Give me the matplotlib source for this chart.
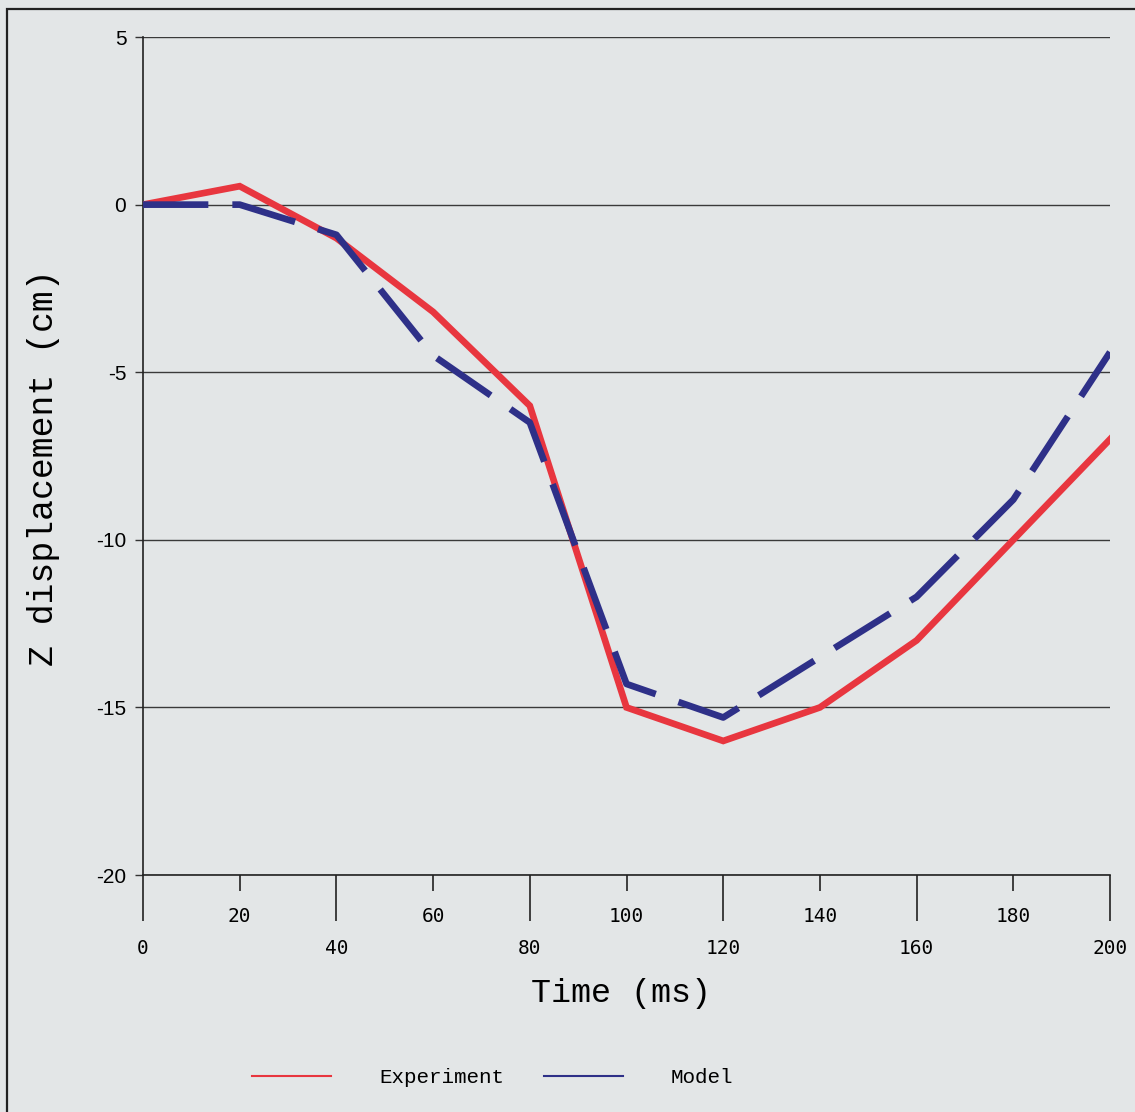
import numpy as np
import matplotlib
matplotlib.use('Agg')
import matplotlib.pyplot as plt
from matplotlib.lines import Line2D
from matplotlib.patches import Rectangle

# data
time_ms = [0, 20, 40, 60, 80, 100, 120, 140, 160, 180, 200]
experiment = [0, 0.55, -1.0, -3.2, -6.0, -15.0, -16.0, -15.0, -13.0, -10.0, -7.0]
model = [0, 0, -0.9, -4.5, -6.5, -14.3, -15.3, -13.5, -11.7, -8.8, -4.4]

major_x = [0, 40, 80, 120, 160, 200]
minor_x = [20, 60, 100, 140, 180]
y_ticks = [5, 0, -5, -10, -15, -20]

bg = '#e3e6e7'
red = '#e8363f'
navy = '#2e3088'
mono = 'Liberation Mono'

fig = plt.figure(figsize=(11.35, 11.12), dpi=100, facecolor=bg)
ax = fig.add_axes([0.126, 0.2131, 0.852, 0.7536], facecolor=bg)

# outer frame
fig.patches.append(Rectangle((0.006, -0.02), 1.1, 1.012, transform=fig.transFigure,
                             fill=False, edgecolor='#222222', lw=1.6))

ax.plot(time_ms, experiment, color=red, lw=4.8, solid_joinstyle='miter', zorder=3)
ln, = ax.plot(time_ms, model, color=navy, lw=4.8, zorder=4)
ln.set_dashes((9.8, 3.6))
ln.set_dash_capstyle('butt')

ax.set_xlim(0, 200)
ax.set_ylim(-20, 5)

ax.set_xticks(major_x)
ax.set_xticks(minor_x, minor=True)
ax.set_xticklabels([str(v) for v in major_x], fontfamily='DejaVu Sans Mono', fontsize=14)
ax.set_xticklabels([str(v) for v in minor_x], minor=True, fontfamily='DejaVu Sans Mono', fontsize=14)
ax.tick_params(axis='x', which='major', length=33, width=1.2, pad=13, color='#222222')
ax.tick_params(axis='x', which='minor', length=11.5, width=1.2, pad=11.5, color='#222222')

ax.set_yticks(y_ticks)
ax.set_yticklabels([str(v) for v in y_ticks], fontfamily='Liberation Sans', fontsize=15)
ax.tick_params(axis='y', length=6, width=1.0, pad=6, color='#333333')

ax.grid(axis='y', color='#3a3a3a', lw=1.0)
ax.set_axisbelow(True)
for s in ['top', 'right']:
    ax.spines[s].set_visible(False)
ax.spines['left'].set_color('#222222')
ax.spines['bottom'].set_color('#222222')
ax.spines['left'].set_linewidth(1.2)
ax.spines['bottom'].set_linewidth(1.2)

ax.set_xlabel('Time (ms)', fontfamily=mono, fontsize=24)
ax.xaxis.set_label_coords(0.494, -0.123)
ax.set_ylabel('Z displacement (cm)', fontfamily=mono, fontsize=25)
ax.yaxis.set_label_coords(-0.086, 0.486)

handles = [Line2D([], [], color=red, lw=1.5), Line2D([], [], color=navy, lw=1.5)]
fig.legend(handles, ['Experiment', 'Model'], loc='center', bbox_to_anchor=(0.434, 0.031),
           ncol=2, frameon=False, prop={'family': mono, 'size': 15},
           handlelength=3.8, handletextpad=2.3, columnspacing=1.9)

fig.savefig('out.png', dpi=100, facecolor=bg)
